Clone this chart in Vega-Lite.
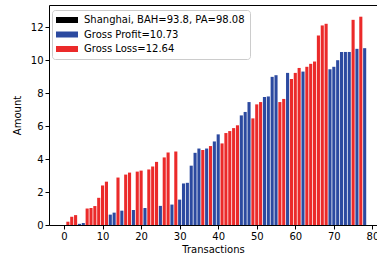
{
  "$schema": "https://vega.github.io/schema/vega-lite/v6.json",
  "autosize": "none",
  "width": 328,
  "height": 220,
  "padding": {"left": 49, "top": 5, "right": 0, "bottom": 34},
  "background": "white",
  "config": {
    "font": "DejaVu Sans",
    "view": {"stroke": "black", "strokeWidth": 1}
  },
  "data": {
    "values": [
      {"t": 1, "amount": 0.2, "kind": "Gross Loss=12.64"},
      {"t": 2, "amount": 0.5, "kind": "Gross Loss=12.64"},
      {"t": 3, "amount": 0.6, "kind": "Gross Loss=12.64"},
      {"t": 4, "amount": 0.07, "kind": "Gross Profit=10.73"},
      {"t": 5, "amount": 0.12, "kind": "Gross Profit=10.73"},
      {"t": 6, "amount": 1.0, "kind": "Gross Loss=12.64"},
      {"t": 7, "amount": 1.03, "kind": "Gross Loss=12.64"},
      {"t": 8, "amount": 1.15, "kind": "Gross Loss=12.64"},
      {"t": 9, "amount": 1.65, "kind": "Gross Loss=12.64"},
      {"t": 10, "amount": 2.4, "kind": "Gross Loss=12.64"},
      {"t": 11, "amount": 2.63, "kind": "Gross Loss=12.64"},
      {"t": 12, "amount": 0.63, "kind": "Gross Profit=10.73"},
      {"t": 13, "amount": 0.75, "kind": "Gross Profit=10.73"},
      {"t": 14, "amount": 2.88, "kind": "Gross Loss=12.64"},
      {"t": 15, "amount": 0.87, "kind": "Gross Profit=10.73"},
      {"t": 16, "amount": 3.06, "kind": "Gross Loss=12.64"},
      {"t": 17, "amount": 3.18, "kind": "Gross Loss=12.64"},
      {"t": 18, "amount": 0.91, "kind": "Gross Profit=10.73"},
      {"t": 19, "amount": 3.24, "kind": "Gross Loss=12.64"},
      {"t": 20, "amount": 3.3, "kind": "Gross Loss=12.64"},
      {"t": 21, "amount": 1.03, "kind": "Gross Profit=10.73"},
      {"t": 22, "amount": 3.37, "kind": "Gross Loss=12.64"},
      {"t": 23, "amount": 3.55, "kind": "Gross Loss=12.64"},
      {"t": 24, "amount": 3.83, "kind": "Gross Loss=12.64"},
      {"t": 25, "amount": 1.16, "kind": "Gross Profit=10.73"},
      {"t": 26, "amount": 4.1, "kind": "Gross Loss=12.64"},
      {"t": 27, "amount": 4.4, "kind": "Gross Loss=12.64"},
      {"t": 28, "amount": 1.24, "kind": "Gross Profit=10.73"},
      {"t": 29, "amount": 4.46, "kind": "Gross Loss=12.64"},
      {"t": 30, "amount": 1.54, "kind": "Gross Profit=10.73"},
      {"t": 31, "amount": 2.52, "kind": "Gross Profit=10.73"},
      {"t": 32, "amount": 2.56, "kind": "Gross Profit=10.73"},
      {"t": 33, "amount": 3.6, "kind": "Gross Profit=10.73"},
      {"t": 34, "amount": 4.38, "kind": "Gross Profit=10.73"},
      {"t": 35, "amount": 4.64, "kind": "Gross Profit=10.73"},
      {"t": 36, "amount": 4.55, "kind": "Gross Loss=12.64"},
      {"t": 37, "amount": 4.64, "kind": "Gross Profit=10.73"},
      {"t": 38, "amount": 4.79, "kind": "Gross Loss=12.64"},
      {"t": 39, "amount": 5.07, "kind": "Gross Profit=10.73"},
      {"t": 40, "amount": 5.5, "kind": "Gross Profit=10.73"},
      {"t": 41, "amount": 4.95, "kind": "Gross Loss=12.64"},
      {"t": 42, "amount": 5.58, "kind": "Gross Loss=12.64"},
      {"t": 43, "amount": 5.7, "kind": "Gross Loss=12.64"},
      {"t": 44, "amount": 5.88, "kind": "Gross Loss=12.64"},
      {"t": 45, "amount": 6.05, "kind": "Gross Loss=12.64"},
      {"t": 46, "amount": 6.65, "kind": "Gross Profit=10.73"},
      {"t": 47, "amount": 6.86, "kind": "Gross Profit=10.73"},
      {"t": 48, "amount": 7.46, "kind": "Gross Profit=10.73"},
      {"t": 49, "amount": 6.47, "kind": "Gross Loss=12.64"},
      {"t": 50, "amount": 7.32, "kind": "Gross Loss=12.64"},
      {"t": 51, "amount": 7.46, "kind": "Gross Loss=12.64"},
      {"t": 52, "amount": 7.77, "kind": "Gross Profit=10.73"},
      {"t": 53, "amount": 7.8, "kind": "Gross Profit=10.73"},
      {"t": 54, "amount": 8.99, "kind": "Gross Profit=10.73"},
      {"t": 55, "amount": 9.09, "kind": "Gross Profit=10.73"},
      {"t": 56, "amount": 7.46, "kind": "Gross Loss=12.64"},
      {"t": 57, "amount": 7.65, "kind": "Gross Loss=12.64"},
      {"t": 58, "amount": 9.23, "kind": "Gross Profit=10.73"},
      {"t": 59, "amount": 8.86, "kind": "Gross Loss=12.64"},
      {"t": 60, "amount": 9.23, "kind": "Gross Loss=12.64"},
      {"t": 61, "amount": 9.53, "kind": "Gross Loss=12.64"},
      {"t": 62, "amount": 9.31, "kind": "Gross Profit=10.73"},
      {"t": 63, "amount": 9.6, "kind": "Gross Loss=12.64"},
      {"t": 64, "amount": 9.78, "kind": "Gross Loss=12.64"},
      {"t": 65, "amount": 9.92, "kind": "Gross Loss=12.64"},
      {"t": 66, "amount": 11.5, "kind": "Gross Loss=12.64"},
      {"t": 67, "amount": 12.11, "kind": "Gross Loss=12.64"},
      {"t": 68, "amount": 12.21, "kind": "Gross Loss=12.64"},
      {"t": 69, "amount": 9.45, "kind": "Gross Profit=10.73"},
      {"t": 70, "amount": 9.6, "kind": "Gross Profit=10.73"},
      {"t": 71, "amount": 10.0, "kind": "Gross Profit=10.73"},
      {"t": 72, "amount": 10.5, "kind": "Gross Profit=10.73"},
      {"t": 73, "amount": 10.5, "kind": "Gross Profit=10.73"},
      {"t": 74, "amount": 10.5, "kind": "Gross Profit=10.73"},
      {"t": 75, "amount": 12.45, "kind": "Gross Loss=12.64"},
      {"t": 76, "amount": 10.69, "kind": "Gross Profit=10.73"},
      {"t": 77, "amount": 12.64, "kind": "Gross Loss=12.64"},
      {"t": 78, "amount": 10.73, "kind": "Gross Profit=10.73"}
    ]
  },
  "mark": {"type": "bar", "width": 3.1},
  "encoding": {
    "x": {
      "field": "t",
      "type": "quantitative",
      "scale": {"domain": [-3.9, 81.2], "nice": false, "zero": false, "padding": 0},
      "axis": {
        "title": "Transactions",
        "values": [0, 10, 20, 30, 40, 50, 60, 70, 80],
        "grid": false,
        "domain": false,
        "tickColor": "black",
        "tickSize": 4,
        "labelFontSize": 10,
        "labelColor": "black",
        "labelPadding": 2,
        "titleFontSize": 10,
        "titleFontWeight": "normal",
        "titleColor": "black",
        "titlePadding": 3
      }
    },
    "y": {
      "field": "amount",
      "type": "quantitative",
      "scale": {"domain": [0, 13.35], "nice": false, "padding": 0},
      "axis": {
        "title": "Amount",
        "values": [0, 2, 4, 6, 8, 10, 12],
        "grid": false,
        "domain": false,
        "tickColor": "black",
        "tickSize": 4,
        "labelFontSize": 10,
        "labelColor": "black",
        "labelPadding": 2,
        "titleFontSize": 10,
        "titleFontWeight": "normal",
        "titleColor": "black",
        "titlePadding": 8
      }
    },
    "color": {
      "field": "kind",
      "type": "nominal",
      "scale": {
        "domain": ["Shanghai, BAH=93.8, PA=98.08", "Gross Profit=10.73", "Gross Loss=12.64"],
        "range": ["#000000", "#2c4aa0", "#eb2a2a"]
      },
      "legend": {
        "title": null,
        "orient": "none",
        "legendX": 3,
        "legendY": 5,
        "symbolType": "M-2.2,-0.6L2.2,-0.6L2.2,0.6L-2.2,0.6Z",
        "symbolSize": 100,
        "symbolStrokeWidth": 0,
        "symbolOpacity": 1,
        "symbolOffset": 5,
        "labelFontSize": 10,
        "labelLimit": 400,
        "labelColor": "black",
        "labelOffset": 12,
        "rowPadding": 4.5,
        "padding": 5,
        "strokeColor": "#cccccc",
        "fillColor": "white",
        "cornerRadius": 3
      }
    }
  }
}
